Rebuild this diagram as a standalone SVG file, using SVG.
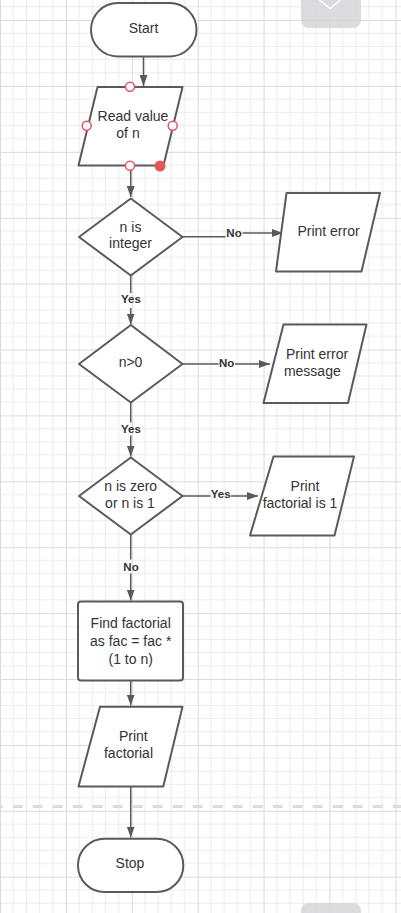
<svg xmlns="http://www.w3.org/2000/svg" width="401" height="913" viewBox="0 0 401 913">
<defs>
<pattern id="grid" patternUnits="userSpaceOnUse" x="0" y="20" width="65.9" height="65.9">
<rect width="65.9" height="65.9" fill="#ffffff"/>
<path d="M13.18,0V65.9M26.36,0V65.9M39.54,0V65.9M52.72,0V65.9M0,13.18H65.9M0,26.36H65.9M0,39.54H65.9M0,52.72H65.9" stroke="#ececec" stroke-width="1" fill="none"/>
<rect x="0" y="0" width="1" height="65.9" fill="#dadada"/>
<rect x="0" y="0" width="65.9" height="1" fill="#dadada"/>
</pattern>
<marker id="arr" markerUnits="userSpaceOnUse" markerWidth="11" markerHeight="8" refX="11" refY="4" orient="auto">
<path d="M0,0 L11,4 L0,8 Z" fill="#5a5a5a"/>
</marker>
<style>
.shape{fill:#ffffff;stroke:#5a5a5a;stroke-width:2;stroke-linejoin:round}
.t{font-family:"Liberation Sans",Arial,sans-serif;font-size:14px;fill:#333333;text-anchor:middle}
.lbl{font-family:"Liberation Sans",Arial,sans-serif;font-size:11.5px;font-weight:bold;fill:#333333;text-anchor:middle}
.conn{fill:none;stroke:#5a5a5a;stroke-width:1.5}
.h{fill:#ffffff;stroke:#e25563;stroke-width:1.5}
</style>
</defs>
<rect width="401" height="913" fill="url(#grid)"/>
<g id="ui">
<rect x="301" y="-10" width="60" height="38" rx="8" fill="#d6d6d8" opacity="0.85"/>
<path d="M319.5,0 L330,8.5 L340.5,0" fill="none" stroke="#ffffff" stroke-width="1.5"/>
<rect x="301" y="903" width="60" height="30" rx="8" fill="#d6d6d8" opacity="0.85"/>
<line x1="0" y1="806.5" x2="401" y2="806.5" stroke="#dcdcdc" stroke-width="3" stroke-dasharray="10 10" stroke-dashoffset="7.3"/>
</g>
<g id="connectors">
<path class="conn" d="M143.5,57 V86" marker-end="url(#arr)"/>
<path class="conn" d="M130.7,166 V197" marker-end="url(#arr)"/>
<path class="conn" d="M183,236.7 H225.5"/>
<path class="conn" d="M242.5,233 H283" marker-end="url(#arr)"/>
<text class="lbl" x="234" y="236.8">No</text>
<path class="conn" d="M130.7,276 V293"/>
<path class="conn" d="M130.7,308 V324.5" marker-end="url(#arr)"/>
<text class="lbl" x="131" y="303.2">Yes</text>
<path class="conn" d="M183,364 H218.7"/>
<path class="conn" d="M235,364 H270" marker-end="url(#arr)"/>
<text class="lbl" x="226.7" y="366.8">No</text>
<path class="conn" d="M130.7,403 V422.5"/>
<path class="conn" d="M130.7,435.5 V456.5" marker-end="url(#arr)"/>
<text class="lbl" x="131" y="432.5">Yes</text>
<path class="conn" d="M183,496 H210.5"/>
<path class="conn" d="M231,496 H258" marker-end="url(#arr)"/>
<text class="lbl" x="220.7" y="498.2">Yes</text>
<path class="conn" d="M130.7,534.5 V559.5"/>
<path class="conn" d="M130.7,573.5 V600.5" marker-end="url(#arr)"/>
<text class="lbl" x="131" y="570.8">No</text>
<path class="conn" d="M130.7,681 V705.5" marker-end="url(#arr)"/>
<path class="conn" d="M130.7,787 V837.5" marker-end="url(#arr)"/>
</g>
<g id="start">
<rect class="shape" x="91" y="3" width="105.5" height="53.5" rx="26.75"/>
<text class="t" x="143.5" y="33.3">Start</text>
</g>
<g id="read">
<polygon class="shape" points="97.5,87 182.5,87 163.5,165.5 78.5,165.5"/>
<text class="t" x="133" y="121">Read value</text>
<text class="t" x="128" y="138.3">of n</text>
<circle class="h" cx="130" cy="86.7" r="4.5"/>
<circle class="h" cx="86.7" cy="125.7" r="4.5"/>
<circle class="h" cx="172.7" cy="125.7" r="4.5"/>
<circle class="h" cx="130" cy="165.7" r="4.5"/>
<circle cx="160" cy="166" r="5.5" fill="#e25563"/>
</g>
<g id="d1">
<polygon class="shape" points="130.8,198.5 182.5,237 130.8,275.5 79,237"/>
<text class="t" x="130.5" y="231.7">n is</text>
<text class="t" x="130.5" y="248.3">integer</text>
</g>
<g id="printerror">
<polygon class="shape" points="286.5,193 380,193 361.5,271.5 276,271.5"/>
<text class="t" x="328.5" y="236">Print error</text>
</g>
<g id="d2">
<polygon class="shape" points="130.8,325 182.5,364 130.8,402.5 79,364"/>
<text class="t" x="130.5" y="367">n&gt;0</text>
</g>
<g id="printerrormsg">
<polygon class="shape" points="283.5,324.5 366.5,324.5 348,403 263.5,403"/>
<text class="t" x="317" y="358.5">Print error</text>
<text class="t" x="312.3" y="376">message</text>
</g>
<g id="d3">
<polygon class="shape" points="130.8,457.5 182.5,496 130.8,534.5 79,496"/>
<text class="t" x="130.7" y="490.7">n is zero</text>
<text class="t" x="130" y="508.3">or n is 1</text>
</g>
<g id="printone">
<polygon class="shape" points="273.5,456.5 354,456.5 334.5,535.5 250,535.5"/>
<text class="t" x="305" y="490.7">Print</text>
<text class="t" x="300" y="508.3">factorial is 1</text>
</g>
<g id="process">
<rect class="shape" x="78" y="601.5" width="105" height="79" rx="3"/>
<text class="t" x="130.7" y="628.3">Find factorial</text>
<text class="t" x="130.7" y="646">as fac = fac *</text>
<text class="t" x="130.7" y="663.5">(1 to n)</text>
</g>
<g id="printfact">
<polygon class="shape" points="100,706.7 182.5,706.7 163.3,786.5 78.5,786.5"/>
<text class="t" x="133.3" y="740.7">Print</text>
<text class="t" x="128.5" y="758.3">factorial</text>
</g>
<g id="stop">
<rect class="shape" x="78" y="838.7" width="105.3" height="53.3" rx="26.6"/>
<text class="t" x="130" y="868.3">Stop</text>
</g>
</svg>
